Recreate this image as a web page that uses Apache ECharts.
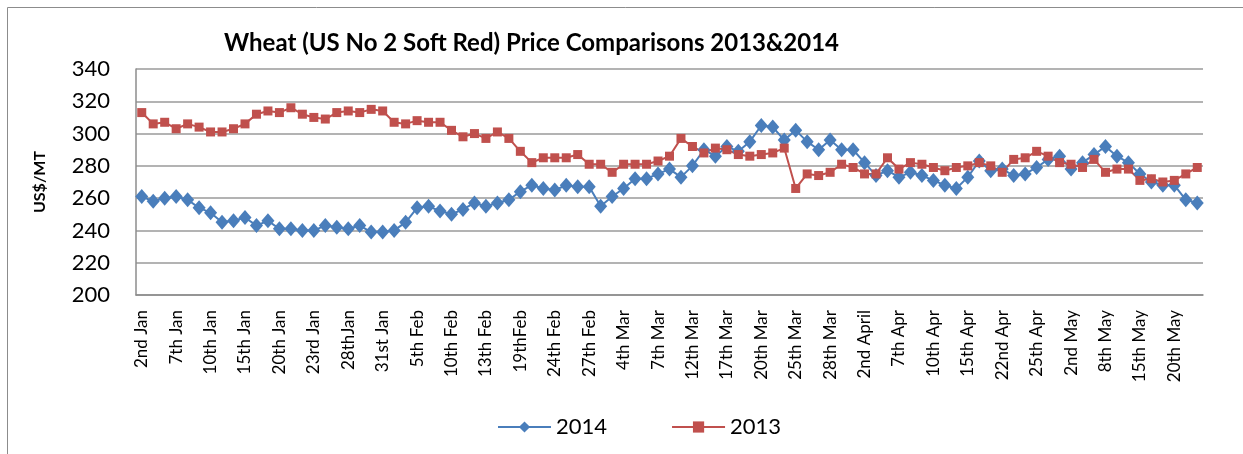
<!DOCTYPE html>
<html>
<head>
<meta charset="utf-8">
<title>Wheat Price Comparisons</title>
<script src="https://cdn.jsdelivr.net/npm/echarts@6/dist/echarts.min.js"></script>
<style>
  html, body { margin: 0; padding: 0; background: #fff; }
  #chart { width: 1243px; height: 454px; }
</style>
</head>
<body>
<div id="chart"></div>
<script>
// tick labels shown on the x axis (one every 3rd point)
const tickLabels = [
  '2nd Jan', '7th Jan', '10th Jan', '15th Jan', '20th Jan', '23rd Jan', '28thJan',
  '31st Jan', '5th Feb', '10th Feb', '13th Feb', '19thFeb', '24th Feb', '27th Feb',
  '4th Mar', '7th Mar', '12th Mar', '17th Mar', '20th Mar', '25th Mar', '28th Mar',
  '2nd April', '7th Apr', '10th Apr', '15th Apr', '22nd Apr', '25th Apr', '2nd May',
  '8th May', '15th May', '20th May'
]

// 2014 prices (US$/MT)
const prices2014 = [
  261, 258, 260, 261, 259, 254, 251, 245, 246, 248, 243, 246, 241, 241, 240, 240, 243, 242, 241, 243, 239, 239, 240, 245,
  254, 255, 252, 250, 253, 257, 255, 257, 259, 264, 268, 266, 265, 268, 267, 267, 255, 261, 266, 272, 272, 275, 278, 273,
  280, 290, 286, 292, 289, 295, 305, 304, 296, 302, 295, 290, 296, 290, 290, 282, 274, 277, 273, 276, 274, 271, 268,
  266, 273, 283, 277, 278, 274, 275, 279, 284, 286, 278, 282, 287, 292, 286, 282, 275, 270, 268, 268, 259, 257
]

// 2013 prices (US$/MT)
const prices2013 = [
  313, 306, 307, 303, 306, 304, 301, 301, 303, 306, 312, 314, 313, 316, 312, 310, 309, 313, 314, 313, 315, 314, 307, 306,
  308, 307, 307, 302, 298, 300, 297, 301, 297, 289, 282, 285, 285, 285, 287, 281, 281, 276, 281, 281, 281, 283, 286, 297,
  292, 288, 291, 290, 287, 286, 287, 288, 291, 266, 275, 274, 276, 281, 279, 275, 275, 285, 278, 282, 281, 279, 277,
  279, 280, 282, 280, 276, 284, 285, 289, 286, 282, 281, 279, 284, 276, 278, 278, 271, 272, 270, 271, 275, 279
]

// one category per point, only every 3rd one carries a label
const categories = prices2014.map((v, i) => (i % 3 === 0 ? tickLabels[i / 3] : ''))

const font = 'Lato, "Liberation Sans", sans-serif'
const chart = echarts.init(document.getElementById('chart'))

chart.setOption({
  animation: false,
  textStyle: { fontFamily: font, color: '#000' },
  graphic: [
    {
      type: 'rect',
      shape: { x: 7.5, y: 7.5, width: 1300, height: 500 },
      style: { fill: 'none', stroke: '#8c8c8c', lineWidth: 1 },
      silent: true
    }
  ],
  title: {
    text: 'Wheat (US No 2 Soft Red) Price Comparisons 2013&2014',
    left: 219,
    top: 26,
    textStyle: { fontFamily: font, fontSize: 24, fontWeight: 'bold', color: '#000' }
  },
  legend: {
    left: 492,
    top: 411,
    itemWidth: 53,
    itemHeight: 14,
    itemGap: 64,
    textStyle: { fontFamily: font, fontSize: 22, color: '#000' },
    data: ['2014', '2013']
  },
  grid: { left: 136, right: 40, top: 69, bottom: 159 },
  xAxis: {
    type: 'category',
    boundaryGap: true,
    data: categories,
    axisLine: { show: true, lineStyle: { color: '#8c8c8c', width: 1.5 } },
    axisTick: { show: false },
    axisLabel: {
      interval: 2,
      rotate: 90,
      margin: 15,
      fontFamily: font,
      fontSize: 17,
      color: '#000'
    }
  },
  yAxis: {
    type: 'value',
    min: 200,
    max: 340,
    interval: 20,
    name: 'US$/MT',
    nameLocation: 'middle',
    nameGap: 88,
    nameTextStyle: { fontFamily: font, fontSize: 16, fontWeight: 'bold', color: '#000' },
    axisLine: { show: true, lineStyle: { color: '#8c8c8c', width: 1.5 } },
    axisTick: { show: false },
    axisLabel: { margin: 26, fontFamily: font, fontSize: 22, color: '#000' },
    splitLine: { lineStyle: { color: '#9a9a9a', width: 1.5 } }
  },
  series: [
    {
      name: '2014',
      type: 'line',
      data: prices2014,
      symbol: 'diamond',
      symbolSize: [13, 15],
      showAllSymbol: true,
      itemStyle: { color: '#4a7ebb' },
      lineStyle: { color: '#4a7ebb', width: 2 }
    },
    {
      name: '2013',
      type: 'line',
      data: prices2013,
      symbol: 'rect',
      symbolSize: 9,
      showAllSymbol: true,
      itemStyle: { color: '#c0504d' },
      lineStyle: { color: '#c0504d', width: 2 }
    }
  ]
})
</script>
</body>
</html>
